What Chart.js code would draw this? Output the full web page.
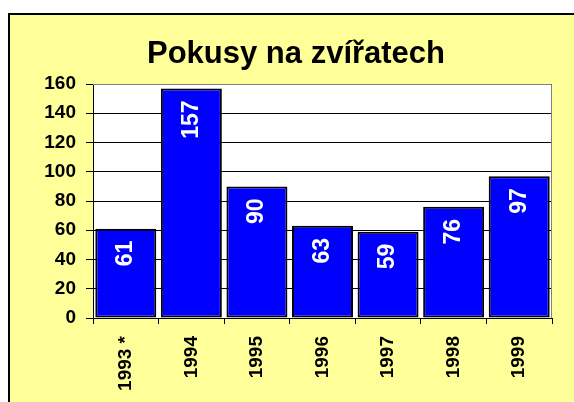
<!DOCTYPE html>
<html>
<head>
<meta charset="utf-8">
<script src="https://cdn.jsdelivr.net/npm/chart.js@4/dist/chart.umd.min.js"></script>
<style>
  html, body { margin: 0; padding: 0; background: #ffffff; width: 574px; height: 402px; overflow: hidden; }
  #box { position: absolute; left: 8px; top: 13px; width: 600px; height: 420px; background: #FFFF99; border: 2px solid #000; box-sizing: border-box; }
  #c { position: absolute; left: 10px; top: 15px; }
</style>
</head>
<body>
<div id="box"></div>
<canvas id="c" width="572" height="387"></canvas>
<script>
const categories = ["1993 *", "1994", "1995", "1996", "1997", "1998", "1999"];
const values = [61, 157, 90, 63, 59, 76, 97];
const yTicks = [0, 20, 40, 60, 80, 100, 120, 140, 160];
const titleText = "Pokusy na zvířatech";

const FONT = "'Liberation Sans', Arial, sans-serif";

const plotBg = {
  id: 'plotBg',
  beforeDraw(chart) {
    const a = chart.chartArea, ctx = chart.ctx;
    ctx.save();
    ctx.fillStyle = '#ffffff';
    ctx.fillRect(a.left, a.top, a.right - a.left, a.bottom - a.top);
    ctx.restore();
  },
  afterDraw(chart) {
    const a = chart.chartArea, ctx = chart.ctx;
    ctx.save();
    ctx.strokeStyle = '#808080';
    ctx.lineWidth = 1;
    ctx.beginPath();
    ctx.moveTo(a.left, a.top + 0.5);
    ctx.lineTo(a.right - 0.5, a.top + 0.5);
    ctx.lineTo(a.right - 0.5, a.bottom);
    ctx.stroke();
    ctx.restore();
  }
};

const barLabels = {
  id: 'barLabels',
  afterDatasetsDraw(chart) {
    const ctx = chart.ctx;
    const meta = chart.getDatasetMeta(0);
    ctx.save();
    ctx.fillStyle = '#ffffff';
    ctx.font = "bold 23px " + FONT;
    ctx.textAlign = 'right';
    ctx.textBaseline = 'middle';
    meta.data.forEach((bar, i) => {
      ctx.save();
      ctx.translate(bar.x, bar.y + 12);
      ctx.rotate(-Math.PI / 2);
      ctx.fillText(String(values[i]), 0, 0);
      ctx.restore();
    });
    ctx.restore();
  }
};

new Chart(document.getElementById('c'), {
  type: 'bar',
  data: {
    labels: categories,
    datasets: [{
      data: values,
      yAxisID: 'y',
      backgroundColor: '#0000FF',
      borderColor: '#000000',
      borderWidth: 2,
      borderSkipped: false,
      barPercentage: 0.93,
      categoryPercentage: 1.0
    }]
  },
  options: {
    responsive: false,
    animation: false,
    devicePixelRatio: 1,
    layout: { padding: 0 },
    plugins: {
      legend: { display: false },
      tooltip: { enabled: false },
      title: {
        display: true,
        text: titleText,
        color: '#000',
        font: { family: FONT, size: 31, weight: 'bold', lineHeight: 1.2 },
        padding: { top: 21.2, bottom: 10.6 }
      }
    },
    scales: {
      x: {
        offset: true,
        grid: { display: true, offset: true, drawOnChartArea: false, drawTicks: true, tickLength: 6, color: '#000', lineWidth: 1 },
        border: { display: true, color: '#000', width: 1 },
        ticks: {
          color: '#000',
          font: { family: FONT, size: 19, weight: 'bold' },
          minRotation: 90, maxRotation: 90,
          padding: 12,
          autoSkip: false
        },
        afterFit(scale) { scale.height = 84; }
      },
      y: {
        position: 'left',
        min: 0, max: 160,
        afterBuildTicks(scale) { scale.ticks = yTicks.map(v => ({ value: v })); },
        grid: { color: '#000', lineWidth: 1, drawTicks: true, tickLength: 7 },
        border: { display: true, color: '#000', width: 1 },
        ticks: {
          color: '#000',
          font: { family: FONT, size: 19, weight: 'bold' },
          padding: 10
        },
        afterFit(scale) { scale.width = 83; }
      },
      yRightSpace: {
        position: 'right',
        min: 0, max: 160,
        grid: { display: false, drawOnChartArea: false },
        border: { display: false },
        ticks: { display: false },
        afterFit(scale) { scale.width = 30; }
      }
    }
  },
  plugins: [plotBg, barLabels]
});
</script>
</body>
</html>
